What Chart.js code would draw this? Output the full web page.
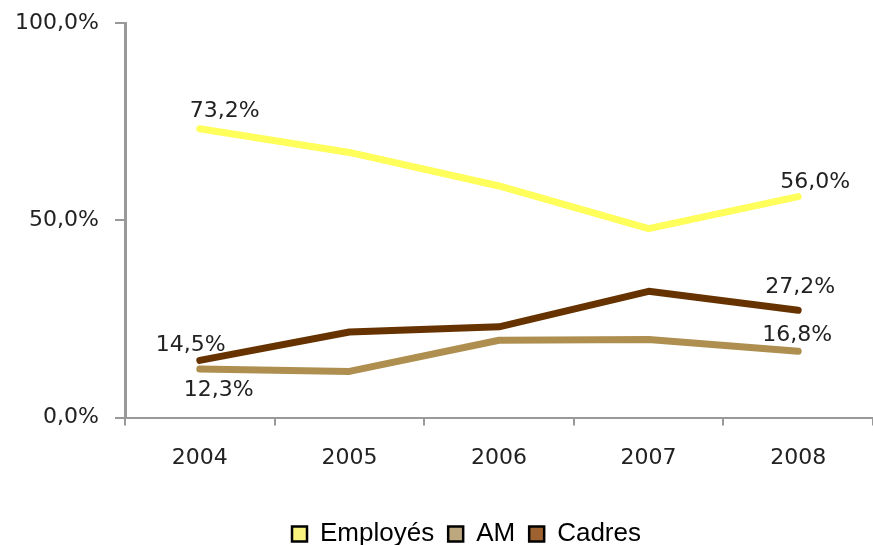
<!DOCTYPE html>
<html>
<head>
<meta charset="utf-8">
<script src="https://cdn.jsdelivr.net/npm/chart.js@4/dist/chart.umd.min.js"></script>
<style>
  html, body { margin: 0; padding: 0; background: #ffffff; overflow: hidden; }
  canvas { display: block; }
</style>
</head>
<body>
<canvas id="c" width="873" height="545"></canvas>
<script>
const years = ["2004", "2005", "2006", "2007", "2008"];
const employes = [73.2, 67.2, 58.7, 47.9, 56.0];
const am = [12.3, 11.7, 19.6, 19.8, 16.8];
const cadres = [14.5, 21.7, 23.0, 32.0, 27.2];
const seriesNames = ["Employés", "AM", "Cadres"];
const yTicks = [0, 50, 100];

function fmt(v) { return v.toFixed(1).replace(".", ",") + "%"; }

// label offsets (pixels) for first/last point labels per dataset
const labelOffsets = [
  { first: [25, -17], last: [17, -14] },
  { first: [19, 21], last: [-1, -16] },
  { first: [-9, -15], last: [2, -23] }
];

const endLabels = {
  id: "endLabels",
  afterDatasetsDraw(chart) {
    const ctx = chart.ctx;
    ctx.save();
    ctx.font = "22px 'DejaVu Sans'";
    ctx.fillStyle = "#222222";
    ctx.textAlign = "center";
    ctx.textBaseline = "middle";
    chart.data.datasets.forEach((ds, di) => {
      const meta = chart.getDatasetMeta(di);
      const n = ds.data.length;
      const pts = [[0, labelOffsets[di].first], [n - 1, labelOffsets[di].last]];
      pts.forEach(([idx, off]) => {
        const p = meta.data[idx];
        ctx.fillText(fmt(ds.data[idx]), p.x + off[0], p.y + off[1]);
      });
    });
    ctx.restore();
  }
};

// shift the legend block slightly right, as in the original layout
const legendShift = {
  id: "legendShift",
  afterLayout(chart) {
    if (chart.legend) {
      chart.legend.left += 30;
      chart.legend.right += 30;
    }
  }
};

const legendFills = ["#F8F27E", "#BDA77E", "#9E6230"];

new Chart(document.getElementById("c"), {
  type: "line",
  data: {
    labels: years,
    datasets: [
      { label: seriesNames[0], data: employes, borderColor: "#FFFF5C", backgroundColor: legendFills[0] },
      { label: seriesNames[1], data: am, borderColor: "#AE8F50", backgroundColor: legendFills[1] },
      { label: seriesNames[2], data: cadres, borderColor: "#663300", backgroundColor: legendFills[2] }
    ]
  },
  options: {
    responsive: false,
    animation: false,
    layout: { padding: { top: 23, right: 0, left: 0, bottom: -12 } },
    elements: {
      line: { borderWidth: 7, tension: 0, borderCapStyle: "round", borderJoinStyle: "round", fill: false },
      point: { radius: 0, hoverRadius: 0 }
    },
    plugins: {
      tooltip: { enabled: false },
      legend: {
        position: "bottom",
        labels: {
          font: { family: "'Liberation Sans', Arial", size: 26 },
          color: "#111111",
          boxWidth: 15,
          boxHeight: 15,
          padding: 14,
          generateLabels(chart) {
            return chart.data.datasets.map((ds, i) => ({
              text: ds.label,
              fillStyle: legendFills[i],
              strokeStyle: "#000000",
              lineWidth: 2.5,
              datasetIndex: i,
              hidden: false
            }));
          }
        }
      }
    },
    scales: {
      x: {
        offset: true,
        afterFit(scale) { scale.height += 17; },
        grid: { drawOnChartArea: false, offset: true, tickLength: 8, color: "#999999", lineWidth: 2 },
        border: { display: true, color: "#999999", width: 2 },
        ticks: { font: { family: "'DejaVu Sans'", size: 22 }, color: "#222222", padding: 19 }
      },
      y: {
        min: 0,
        max: 100,
        afterFit(scale) { scale.width = 125; scale.paddingTop = 0; },
        afterBuildTicks(scale) { scale.ticks = yTicks.map(v => ({ value: v })); },
        grid: { drawOnChartArea: false, tickLength: 10, color: "#999999", lineWidth: 2 },
        border: { display: true, color: "#999999", width: 3 },
        ticks: {
          font: { family: "'DejaVu Sans'", size: 22 },
          color: "#222222",
          padding: 16,
          callback: (v) => fmt(v)
        }
      }
    }
  },
  plugins: [endLabels, legendShift]
});
</script>
</body>
</html>
